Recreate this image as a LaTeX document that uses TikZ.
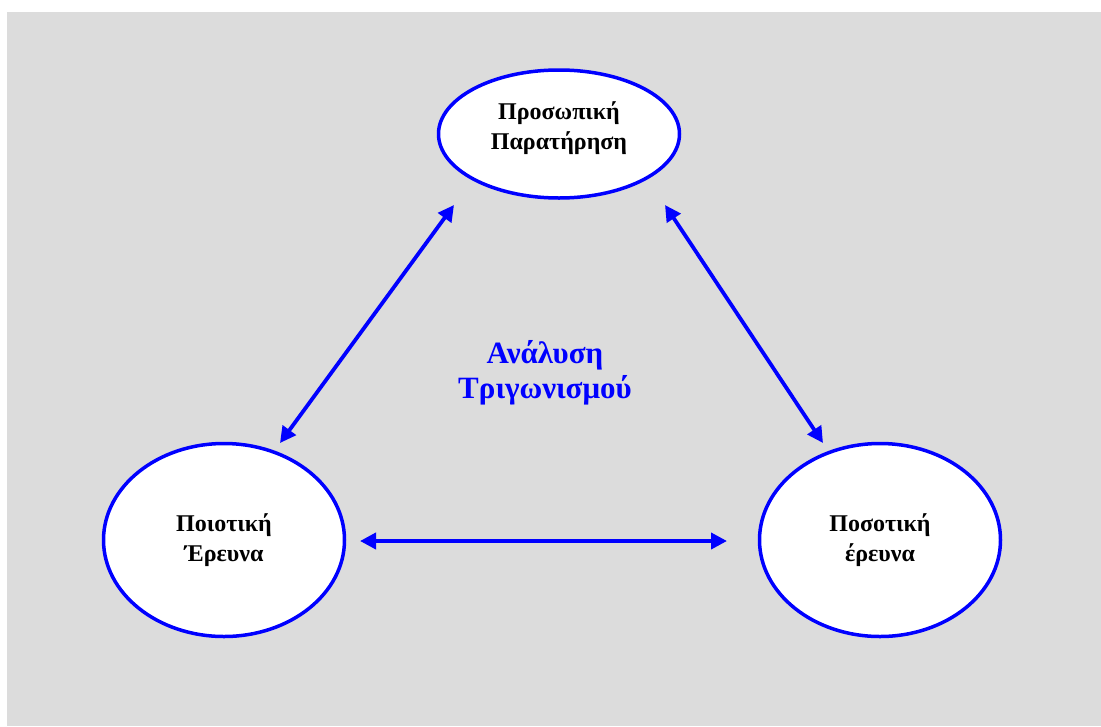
\documentclass[tikz,border=0pt]{standalone}
\usepackage{fontspec}
\setmainfont{Liberation Serif}
\usetikzlibrary{arrows.meta,shapes.geometric}
\definecolor{panelgray}{HTML}{DCDCDC}
\definecolor{rimblue}{HTML}{0000FF}
\begin{document}
\begin{tikzpicture}[x=1pt,y=-1pt,
  oval/.style={ellipse,draw=rimblue,fill=white,line width=3.5pt,inner sep=0pt,
    minimum width=241pt,minimum height=193pt,align=center,
    font=\bfseries\fontsize{24}{30}\selectfont},
  link/.style={draw=rimblue,line width=3.8pt,
    {Triangle[length=16pt,width=16pt]}-{Triangle[length=16pt,width=16pt]}},
  title/.style={align=center,text=rimblue,font=\bfseries\fontsize{31}{35}\selectfont}]
\useasboundingbox (0,0) rectangle (1101,726);
\fill[panelgray] (7,12) rectangle (1101,726);

% the three sources
\node[oval,minimum height=128pt] (obs) at (559,134) {};
\node[font=\bfseries\fontsize{24}{30}\selectfont,align=center] (obstext) at (559,128) {Προσωπική\\Παρατήρηση};
\node[oval] (qual) at (224,540) {Ποιοτική\\Έρευνα};
\node[oval] (quant) at (880,540) {Ποσοτική\\έρευνα};

% centre label
\node[title] (tri) at (545,373) {Ανάλυση\\Τριγωνισμού};

% arrow ends
\coordinate (l1) at (454,205);
\coordinate (l2) at (280,443);
\coordinate (r1) at (665,205);
\coordinate (r2) at (823,443);
\coordinate (h1) at (360,541);
\coordinate (h2) at (727,541);

\draw[link] (l1) -- (l2);
\draw[link] (r1) -- (r2);
\draw[link] (h1) -- (h2);
\end{tikzpicture}
\end{document}
